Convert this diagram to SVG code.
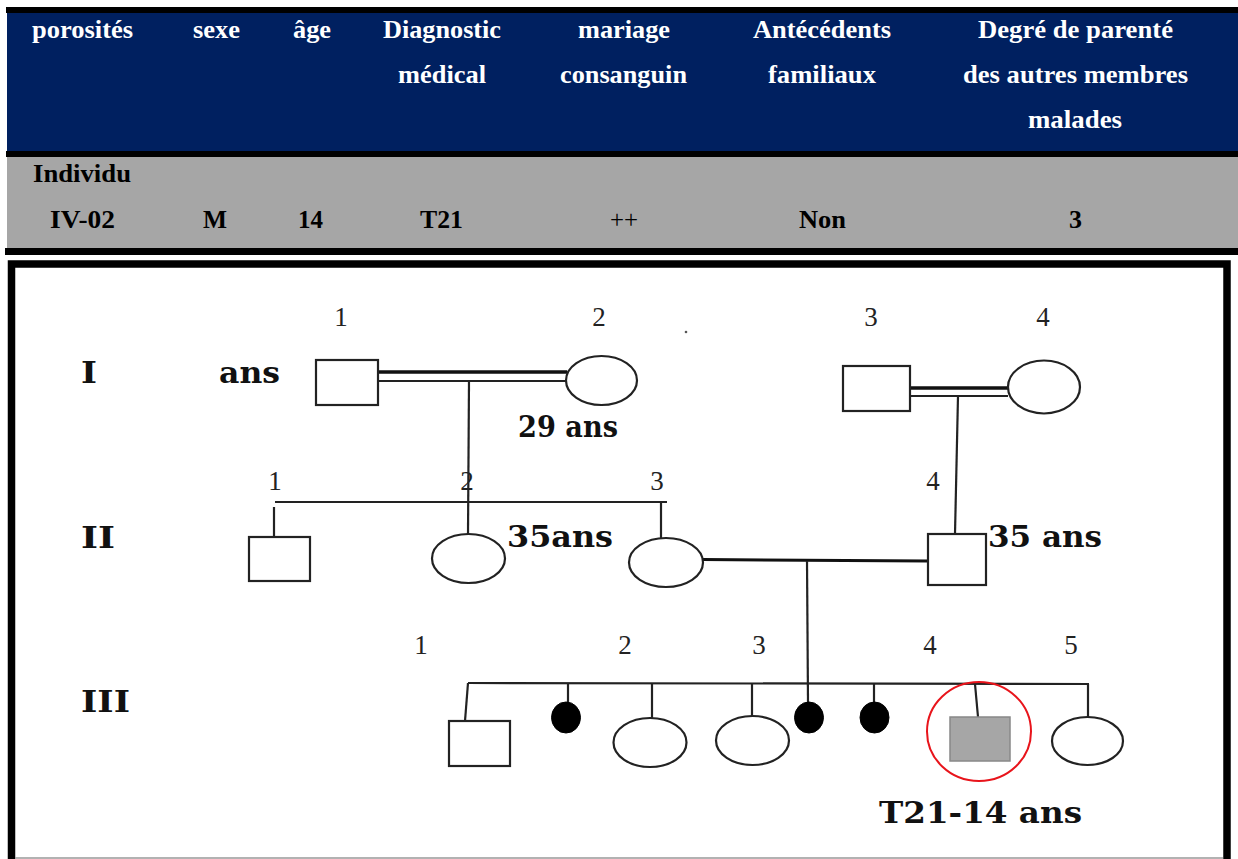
<svg xmlns="http://www.w3.org/2000/svg" width="1238" height="859" viewBox="0 0 1238 859">
<style>
.th{font-family:"Liberation Serif","Times New Roman",serif;font-weight:bold;font-size:25px;fill:#ffffff}
.td{font-family:"Liberation Serif","Times New Roman",serif;font-weight:bold;font-size:25px;fill:#000000}
.tdr{font-family:"Liberation Serif","Times New Roman",serif;font-size:25px;fill:#000000}
.num{font-family:"Liberation Serif","Times New Roman",serif;font-size:27px;fill:#222;text-anchor:middle}
.lab{font-family:"DejaVu Serif","Liberation Serif",serif;font-weight:bold;font-size:29px;fill:#111}
.ind{fill:#ffffff;stroke:#222;stroke-width:2.2}
.aff{fill:#000000;stroke:#000;stroke-width:1}
.ln{stroke:#222;stroke-width:2.2;fill:none}
.lnt{stroke:#111;stroke-width:3.5;fill:none}
</style>
<rect x="0" y="0" width="1238" height="859" fill="#ffffff"/>
<g id="table">
<rect x="6" y="7" width="1232" height="6" fill="#000"/>
<rect x="7" y="13" width="1231" height="138" fill="#002060"/>
<rect x="6" y="151" width="1232" height="6" fill="#000"/>
<rect x="7" y="157" width="1231" height="91" fill="#a6a6a6"/>
<rect x="5" y="248" width="1233" height="7" fill="#000"/>
<text class="th" x="32" y="38" textLength="101" lengthAdjust="spacingAndGlyphs">porosités</text>
<text class="th" x="193" y="38" textLength="47" lengthAdjust="spacingAndGlyphs">sexe</text>
<text class="th" x="293" y="38" textLength="38" lengthAdjust="spacingAndGlyphs">âge</text>
<text class="th" x="383" y="38" textLength="118" lengthAdjust="spacingAndGlyphs">Diagnostic</text>
<text class="th" x="578" y="38" textLength="92" lengthAdjust="spacingAndGlyphs">mariage</text>
<text class="th" x="753" y="38" textLength="138" lengthAdjust="spacingAndGlyphs">Antécédents</text>
<text class="th" x="978" y="38" textLength="195" lengthAdjust="spacingAndGlyphs">Degré de parenté</text>
<text class="th" x="398" y="83" textLength="88" lengthAdjust="spacingAndGlyphs">médical</text>
<text class="th" x="560" y="83" textLength="127" lengthAdjust="spacingAndGlyphs">consanguin</text>
<text class="th" x="768" y="83" textLength="108" lengthAdjust="spacingAndGlyphs">familiaux</text>
<text class="th" x="963" y="83" textLength="225" lengthAdjust="spacingAndGlyphs">des autres membres</text>
<text class="th" x="1028" y="128" textLength="94" lengthAdjust="spacingAndGlyphs">malades</text>
<text class="td" x="33" y="182" textLength="98" lengthAdjust="spacingAndGlyphs">Individu</text>
<text class="td" x="50" y="228" textLength="65" lengthAdjust="spacingAndGlyphs">IV-02</text>
<text class="td" x="203" y="228" textLength="24" lengthAdjust="spacingAndGlyphs">M</text>
<text class="td" x="298" y="228" textLength="25" lengthAdjust="spacingAndGlyphs">14</text>
<text class="td" x="420" y="228" textLength="43" lengthAdjust="spacingAndGlyphs">T21</text>
<text class="tdr" x="610" y="228" textLength="28" lengthAdjust="spacingAndGlyphs">++</text>
<text class="td" x="799" y="228" textLength="47" lengthAdjust="spacingAndGlyphs">Non</text>
<text class="td" x="1069" y="228" textLength="13" lengthAdjust="spacingAndGlyphs">3</text>
</g>
<g id="frame">
<rect x="11.5" y="264" width="1215.5" height="620" fill="none" stroke="#000" stroke-width="7.5"/>
<line x1="15" y1="858" x2="1223" y2="858" stroke="#999" stroke-width="1.5"/>
</g>
<g id="labels">
<text class="lab" x="81" y="383" textLength="16" lengthAdjust="spacingAndGlyphs">I</text>
<text class="lab" x="81" y="548" textLength="34" lengthAdjust="spacingAndGlyphs">II</text>
<text class="lab" x="81" y="712" textLength="49" lengthAdjust="spacingAndGlyphs">III</text>
<text class="lab" x="219" y="383" textLength="61" lengthAdjust="spacingAndGlyphs">ans</text>
<text class="lab" x="518" y="437" textLength="100" lengthAdjust="spacingAndGlyphs">29 ans</text>
<text class="lab" x="507" y="547" textLength="106" lengthAdjust="spacingAndGlyphs">35ans</text>
<text class="lab" x="988" y="547" textLength="114" lengthAdjust="spacingAndGlyphs">35 ans</text>
<text class="lab" x="879" y="823" textLength="203" lengthAdjust="spacingAndGlyphs">T21-14 ans</text>
<text class="num" x="341" y="326">1</text>
<text class="num" x="599" y="326">2</text>
<text class="num" x="871" y="326">3</text>
<text class="num" x="1043" y="326">4</text>
<text class="num" x="275" y="490">1</text>
<text class="num" x="467" y="490">2</text>
<text class="num" x="657" y="490">3</text>
<text class="num" x="933" y="490">4</text>
<text class="num" x="421" y="654">1</text>
<text class="num" x="625" y="654">2</text>
<text class="num" x="759" y="654">3</text>
<text class="num" x="930" y="654">4</text>
<text class="num" x="1071" y="654">5</text>
<circle cx="686" cy="332" r="1.3" fill="#555"/>
</g>
<g id="connectors">
<line class="lnt" x1="378" y1="372" x2="567" y2="372"/>
<line class="ln" x1="378" y1="381" x2="567" y2="381"/>
<line class="ln" x1="469" y1="381" x2="468" y2="534"/>
<line class="lnt" x1="906" y1="388" x2="1008" y2="388"/>
<line class="ln" x1="910" y1="396" x2="1008" y2="396"/>
<line class="ln" x1="958" y1="396" x2="955" y2="534"/>
<line class="ln" x1="275" y1="502" x2="667" y2="502"/>
<line class="ln" x1="274" y1="507" x2="274" y2="537"/>
<line class="ln" x1="661" y1="502" x2="661" y2="538"/>
<line class="lnt" x1="703" y1="559.5" x2="928" y2="561" style="stroke-width:3"/>
<line class="ln" x1="807" y1="561" x2="808" y2="703"/>
<line class="ln" x1="468" y1="683" x2="1089" y2="684"/>
<line class="ln" x1="468" y1="683" x2="465" y2="721"/>
<line class="ln" x1="568" y1="683" x2="568" y2="703"/>
<line class="ln" x1="652" y1="683" x2="652" y2="718"/>
<line class="ln" x1="752" y1="683" x2="752" y2="716"/>
<line class="ln" x1="874" y1="684" x2="874" y2="703"/>
<line class="ln" x1="975" y1="684" x2="978" y2="717"/>
<line class="ln" x1="1088" y1="684" x2="1088" y2="717"/>
</g>
<g id="I-1"><rect class="ind" x="316" y="360" width="62" height="45"/></g>
<g id="I-2"><ellipse class="ind" cx="601.5" cy="380.5" rx="35.5" ry="24.5"/></g>
<g id="I-3"><rect class="ind" x="843" y="366" width="67" height="45"/></g>
<g id="I-4"><ellipse class="ind" cx="1044" cy="387" rx="36" ry="26.5"/></g>
<g id="II-1"><rect class="ind" x="249" y="537" width="61" height="44"/></g>
<g id="II-2"><ellipse class="ind" cx="468.5" cy="558.5" rx="36.5" ry="24.5"/></g>
<g id="II-3"><ellipse class="ind" cx="666" cy="562.5" rx="37" ry="24.5"/></g>
<g id="II-4"><rect class="ind" x="928" y="534" width="58" height="51"/></g>
<g id="III-1"><rect class="ind" x="449" y="721" width="61" height="45"/></g>
<g id="III-a"><ellipse class="aff" cx="566" cy="717.5" rx="14.5" ry="15.5"/></g>
<g id="III-2"><ellipse class="ind" cx="650" cy="742.5" rx="36.5" ry="24.5"/></g>
<g id="III-3"><ellipse class="ind" cx="752.5" cy="740.5" rx="36.5" ry="24.5"/></g>
<g id="III-b"><ellipse class="aff" cx="809" cy="717.5" rx="14.5" ry="15.5"/></g>
<g id="III-c"><ellipse class="aff" cx="874.5" cy="717.5" rx="14.5" ry="15.5"/></g>
<g id="III-4">
<rect x="950" y="717" width="60" height="44" fill="#a6a6a6" stroke="#888" stroke-width="1.5"/>
<ellipse cx="979" cy="731.5" rx="52" ry="49.5" fill="none" stroke="#e8141b" stroke-width="2"/>
</g>
<g id="III-5"><ellipse class="ind" cx="1087.5" cy="741" rx="35.5" ry="24"/></g>
</svg>
